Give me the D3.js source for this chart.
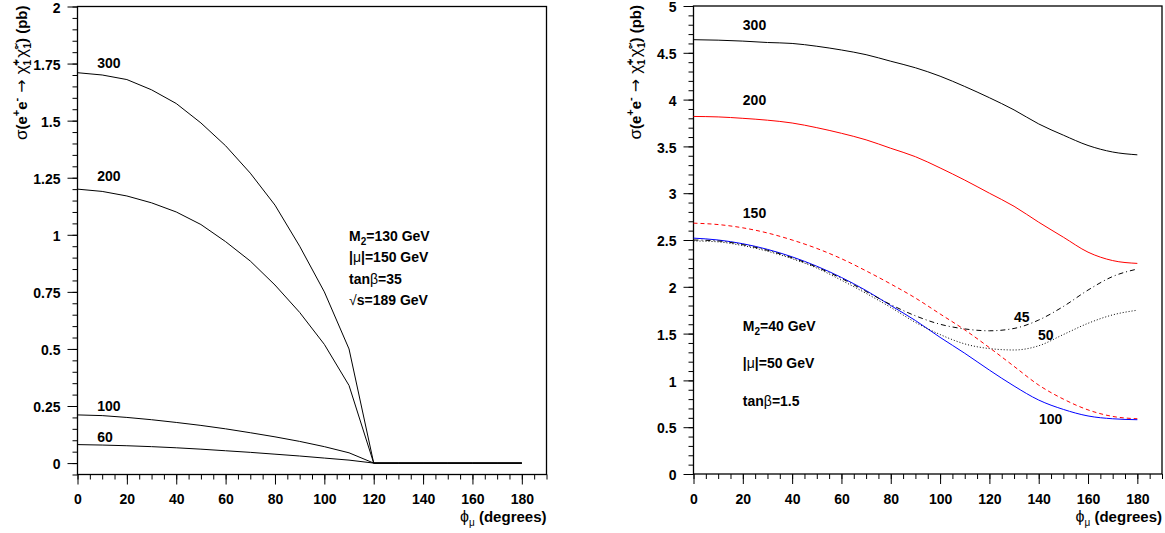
<!DOCTYPE html>
<html><head><meta charset="utf-8">
<script src="https://cdn.jsdelivr.net/npm/d3@7"></script>
<style>
body{margin:0;background:#fff;}
text{font-family:"Liberation Sans",Arial,Helvetica,sans-serif;font-weight:bold;fill:#000;}
.g{font-weight:normal;}
</style></head><body>
<svg id="c" width="1165" height="533"></svg>
<script>
// ---------- data ----------
const phi = [0,10,20,30,40,50,60,70,80,90,100,110,120,130,140,150,160,170,180];

// left panel: M2=130, |mu|=150, tanb=35, sqrt(s)=189 GeV
const left300 = [1.71,1.70,1.68,1.635,1.575,1.49,1.39,1.27,1.13,0.95,0.75,0.50,0,0,0,0,0,0,0];
const left200 = [1.20,1.19,1.17,1.14,1.10,1.045,0.97,0.885,0.78,0.66,0.52,0.34,0,0,0,0,0,0,0];
const left100 = [0.211,0.208,0.20,0.19,0.178,0.165,0.15,0.133,0.115,0.095,0.072,0.045,0,0,0,0,0,0,0];
const left60  = [0.081,0.079,0.076,0.072,0.067,0.061,0.054,0.047,0.039,0.031,0.022,0.013,0,0,0,0,0,0,0];

// right panel: M2=40, |mu|=50, tanb=1.5
const right300 = [4.64,4.635,4.625,4.61,4.60,4.57,4.53,4.48,4.41,4.34,4.25,4.14,4.02,3.89,3.74,3.62,3.51,3.44,3.41];
const right200 = [3.82,3.815,3.80,3.78,3.75,3.70,3.64,3.57,3.48,3.39,3.27,3.14,3.00,2.86,2.69,2.53,2.37,2.28,2.25];
const right150 = [2.68,2.665,2.63,2.575,2.50,2.41,2.30,2.17,2.03,1.88,1.71,1.54,1.35,1.15,0.95,0.80,0.685,0.615,0.59];
const right100 = [2.52,2.50,2.46,2.40,2.32,2.22,2.10,1.96,1.80,1.64,1.46,1.29,1.11,0.94,0.79,0.69,0.62,0.59,0.58];
const right45  = [2.50,2.49,2.45,2.39,2.31,2.21,2.09,1.95,1.81,1.69,1.60,1.55,1.53,1.555,1.645,1.79,1.965,2.11,2.19];
const right50  = [2.49,2.48,2.44,2.38,2.30,2.20,2.07,1.93,1.78,1.62,1.49,1.39,1.34,1.325,1.37,1.49,1.61,1.70,1.75];

// tick labels
const xTickValues = [0,20,40,60,80,100,120,140,160,180];
const xTickLabels = ["0","20","40","60","80","100","120","140","160","180"];
const leftYTickValues = [0,0.25,0.5,0.75,1,1.25,1.5,1.75,2];
const leftYTickLabels = ["0","0.25","0.5","0.75","1","1.25","1.5","1.75","2"];
const rightYTickValues = [0,0.5,1,1.5,2,2.5,3,3.5,4,4.5,5];
const rightYTickLabels = ["0","0.5","1","1.5","2","2.5","3","3.5","4","4.5","5"];

// ---------- drawing ----------
const svg = d3.select("#c");
const FONT = '"Liberation Sans",Arial,sans-serif';

function panel(opts){
  const x = d3.scaleLinear().domain([0,190]).range([opts.x0, opts.x1]);
  const y = d3.scaleLinear().domain(opts.ydom).range([opts.y0, opts.y1]);
  const g = svg.append("g");

  // minor ticks
  const xMinor = d3.range(0,190.01,5);
  g.append("g").attr("transform",`translate(0,${opts.y0})`)
    .call(d3.axisBottom(x).tickValues(xMinor).tickSize(5).tickFormat(""))
    .call(a=>a.select(".domain").remove());
  const yMinor = d3.range(opts.ydom[0], opts.ydom[1]+1e-9, opts.yMinorStep).map(v=>+v.toFixed(4));
  g.append("g").attr("transform",`translate(${opts.x0},0)`)
    .call(d3.axisLeft(y).tickValues(yMinor).tickSize(5).tickFormat(""))
    .call(a=>a.select(".domain").remove());

  // major ticks
  g.append("g").attr("transform",`translate(0,${opts.y0})`)
    .call(d3.axisBottom(x).tickValues(xTickValues).tickSize(10).tickPadding(10)
      .tickFormat((d,i)=>xTickLabels[i]))
    .call(a=>a.select(".domain").remove())
    .call(a=>a.selectAll("text").style("font-size","14px").style("font-family",FONT).style("font-weight","bold"));
  g.append("g").attr("transform",`translate(${opts.x0},0)`)
    .call(d3.axisLeft(y).tickValues(opts.yTicks).tickSize(10).tickPadding(7)
      .tickFormat((d,i)=>opts.yLabels[i]))
    .call(a=>a.select(".domain").remove())
    .call(a=>a.selectAll("text").attr("dy","0.4em").style("font-size","14px").style("font-family",FONT).style("font-weight","bold"));
  g.selectAll(".tick line").attr("stroke","#000");

  // frame
  g.append("rect").attr("x",opts.x0).attr("y",opts.y1)
    .attr("width",opts.x1-opts.x0).attr("height",opts.y0-opts.y1)
    .attr("fill","none").attr("stroke","#000").attr("stroke-width",1.3);

  // series
  opts.series.forEach(s=>{
    const line = d3.line().x((d,i)=>x(phi[i])).y(d=>y(d)).curve(opts.curve);
    g.append("path").datum(s.values).attr("d",line)
      .attr("fill","none").attr("stroke",s.color).attr("stroke-width",s.width||1)
      .attr("stroke-dasharray",s.dash||null);
  });

  // curve labels
  opts.labels.forEach(l=>{
    g.append("text").attr("x",x(l[0])).attr("y",y(l[1])).attr("dy","0.35em")
      .style("font-size","14px").text(l[2]);
  });

  // y title
  const yt = g.append("text")
    .attr("transform",`translate(${opts.titleX},${opts.y1 - 1}) rotate(-90)`)
    .attr("text-anchor","end").style("font-size","15px");
  yt.append("tspan").attr("class","g").style("font-size","17px").text("σ");
  yt.append("tspan").text("(e");
  yt.append("tspan").attr("dy",-7).style("font-size","11px").text("+");
  yt.append("tspan").attr("dy",7).text("e");
  yt.append("tspan").attr("dy",-7).style("font-size","11px").text("-");
  yt.append("tspan").attr("dy",7).attr("class","g")
    .style("font-family",'"DejaVu Sans",sans-serif').style("font-size","16px").text(" → ");
  yt.append("tspan").attr("class","g").style("font-size","17px").text("χ̃");
  yt.append("tspan").attr("dy",-7).style("font-size","10px").text("+");
  yt.append("tspan").attr("dx",-6).attr("dy",11).style("font-size","10px").text("1");
  yt.append("tspan").attr("dx",2).attr("dy",-4).attr("class","g").style("font-size","17px").text("χ̃");
  yt.append("tspan").attr("dy",-7).style("font-size","10px").text("-");
  yt.append("tspan").attr("dx",-3).attr("dy",11).style("font-size","10px").text("1");
  yt.append("tspan").attr("dy",-4).text(") (pb)");

  // x title
  const xt = g.append("text").attr("x",opts.x1).attr("y",522)
    .attr("text-anchor","end").style("font-size","15px");
  xt.append("tspan").attr("class","g").style("font-size","16px").text("ϕ");
  xt.append("tspan").attr("class","g").attr("dy",4).style("font-size","10px").text("μ");
  xt.append("tspan").attr("dy",-4).text(" (degrees)");

  // annotation
  opts.notes.forEach(n=>{
    const t = g.append("text").attr("x",x(n.phi)).attr("y",n.py).attr("dy","0.35em").style("font-size","14px");
    n.parts.forEach(p=>{
      const ts = t.append("tspan").text(p.t);
      if(p.g) ts.attr("class","g");
      if(p.sub){ ts.attr("dy",4).style("font-size","10px"); }
      if(p.back){ ts.attr("dy",-4); }
    });
  });
  return {x,y};
}

panel({
  x0:77.5, x1:546.5, y0:474.5, y1:6.5, ydom:[-0.05,2], yMinorStep:0.05,
  yTicks:leftYTickValues, yLabels:leftYTickLabels, titleX:27,
  curve:d3.curveLinear,
  series:[
    {values:left300,color:"#000"},
    {values:left200,color:"#000"},
    {values:left100,color:"#000"},
    {values:left60,color:"#000"}
  ],
  labels:[[8,1.753,"300"],[8,1.256,"200"],[8,0.248,"100"],[8,0.116,"60"]],
  notes:[
    {phi:110, py:236, parts:[{t:"M"},{t:"2",sub:true},{t:"=130 GeV",back:true}]},
    {phi:110, py:257, parts:[{t:"|"},{t:"μ",g:true},{t:"|=150 GeV"}]},
    {phi:110, py:279, parts:[{t:"tan"},{t:"β",g:true},{t:"=35"}]},
    {phi:110, py:300, parts:[{t:"√",g:true},{t:"s=189 GeV"}]}
  ]
});

panel({
  x0:693.5, x1:1162, y0:474, y1:6, ydom:[0,5], yMinorStep:0.1,
  yTicks:rightYTickValues, yLabels:rightYTickLabels, titleX:641,
  curve:d3.curveMonotoneX,
  series:[
    {values:right300,color:"#000"},
    {values:right200,color:"#ff0000"},
    {values:right150,color:"#ff0000",dash:"4,3"},
    {values:right100,color:"#0000ff"},
    {values:right45,color:"#000",dash:"5,3,1,3"},
    {values:right50,color:"#000",dash:"1,2"}
  ],
  labels:[[20,4.797,"300"],[20,3.996,"200"],[20,2.788,"150"],[130,1.678,"45"],[139.7,1.485,"50"],[140.1,0.588,"100"]],
  notes:[
    {phi:20, py:326, parts:[{t:"M"},{t:"2",sub:true},{t:"=40 GeV",back:true}]},
    {phi:20, py:363, parts:[{t:"|"},{t:"μ",g:true},{t:"|=50 GeV"}]},
    {phi:20, py:401, parts:[{t:"tan"},{t:"β",g:true},{t:"=1.5"}]}
  ]
});
</script>
</body></html>
